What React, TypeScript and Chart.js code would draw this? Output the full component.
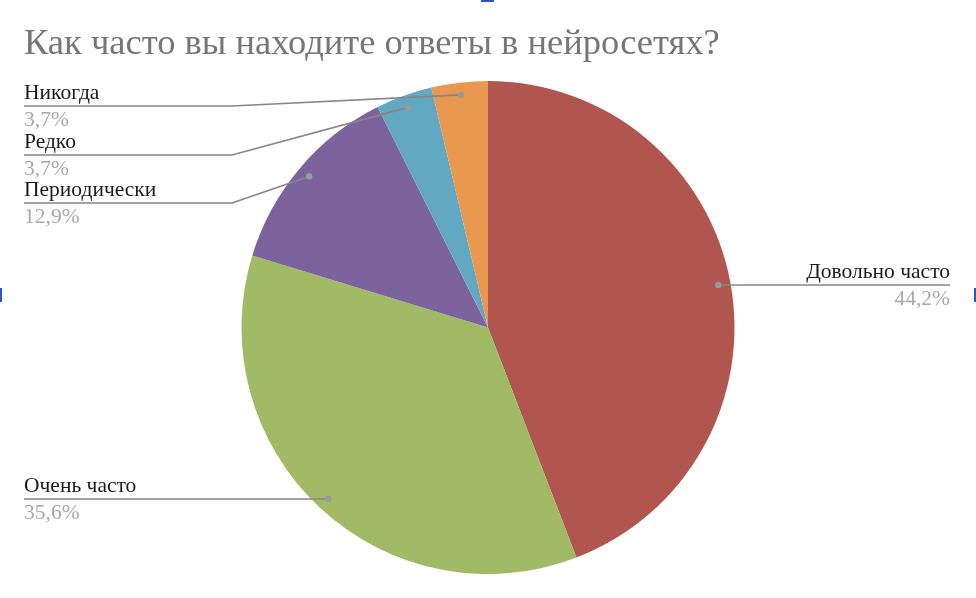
import { useEffect, useRef } from 'react'
import { Chart, registerables, type ChartConfiguration, type Plugin } from 'chart.js'
Chart.register(...registerables)

const title = 'Как часто вы находите ответы в нейросетях?'
const labels = ['Довольно часто', 'Очень часто', 'Периодически', 'Редко', 'Никогда']
const shares = [44.2, 35.6, 12.9, 3.7, 3.7]
const colors = ['#B0564F', '#A1BA65', '#7D639D', '#62A8C3', '#E8994F']

// where each callout sits: side, y of the underline, x of the elbow
const callouts = [
  { side: 'right', lineY: 285, elbowX: null },
  { side: 'left', lineY: 499, elbowX: null },
  { side: 'left', lineY: 203, elbowX: 232 },
  { side: 'left', lineY: 155, elbowX: 232 },
  { side: 'left', lineY: 106, elbowX: 232 },
] as const

const SERIF = '"Liberation Serif", "DejaVu Serif", serif'

const calloutPlugin: Plugin<'pie'> = {
  id: 'callouts',
  afterDraw(chart) {
    const ctx = chart.ctx
    const meta = chart.getDatasetMeta(0)
    ctx.save()
    // title
    ctx.font = `36.5px ${SERIF}`
    ctx.fillStyle = '#767676'
    ctx.textAlign = 'left'
    ctx.textBaseline = 'alphabetic'
    ctx.fillText(title, 24, 54)

    meta.data.forEach((el: any, i) => {
      const mid = (el.startAngle + el.endAngle) / 2
      const r = el.outerRadius * 0.95
      const dx = el.x + Math.cos(mid) * r
      const dy = el.y + Math.sin(mid) * r
      const c = callouts[i]
      const pct = shares[i].toFixed(1).replace('.', ',') + '%'

      ctx.strokeStyle = '#868686'
      ctx.lineWidth = 1.6
      ctx.beginPath()
      if (c.side === 'right') {
        ctx.moveTo(dx, c.lineY)
        ctx.lineTo(950, c.lineY)
      } else if (c.elbowX == null) {
        ctx.moveTo(24, c.lineY)
        ctx.lineTo(dx, c.lineY)
      } else {
        ctx.moveTo(24, c.lineY)
        ctx.lineTo(c.elbowX, c.lineY)
        ctx.lineTo(dx, dy)
      }
      ctx.stroke()

      ctx.fillStyle = '#9a9a9a'
      ctx.beginPath()
      ctx.arc(dx, c.elbowX == null ? c.lineY : dy, 3.2, 0, Math.PI * 2)
      ctx.fill()

      ctx.font = `21.5px ${SERIF}`
      ctx.textAlign = c.side === 'right' ? 'right' : 'left'
      const tx = c.side === 'right' ? 950 : 24
      ctx.fillStyle = '#1a1a1a'
      ctx.fillText(labels[i], tx, c.lineY - 7)
      ctx.fillStyle = '#a8a8a8'
      ctx.fillText(pct, tx, c.lineY + 20)
    })

    // selection handles at the frame edges
    ctx.fillStyle = '#2a55d0'
    ctx.fillRect(481, 0, 13, 2)
    ctx.fillRect(0, 288, 2, 14)
    ctx.fillRect(974, 288, 2, 14)
    ctx.restore()
  },
}

export default function App() {
  const ref = useRef<HTMLCanvasElement>(null)
  const chartRef = useRef<Chart<'pie'> | null>(null)

  useEffect(() => {
    document.body.style.margin = '0'
    if (!ref.current) return
    chartRef.current?.destroy()
    const config: ChartConfiguration<'pie'> = {
      type: 'pie',
      data: {
        labels,
        datasets: [{
          data: shares,
          backgroundColor: colors,
          borderWidth: 0,
        }],
      },
      options: {
        responsive: false,
        animation: false,
        layout: { padding: { top: 81, bottom: 24, left: 0, right: 0 } },
        plugins: {
          legend: { display: false },
          tooltip: { enabled: false },
        },
      },
      plugins: [calloutPlugin],
    }
    chartRef.current = new Chart(ref.current, config)
    return () => chartRef.current?.destroy()
  }, [])

  return (
    <div style={{ width: '976px', height: '598px', background: '#fff' }}>
      <canvas ref={ref} width={976} height={598} style={{ width: '976px', height: '598px', display: 'block' }} />
    </div>
  )
}
